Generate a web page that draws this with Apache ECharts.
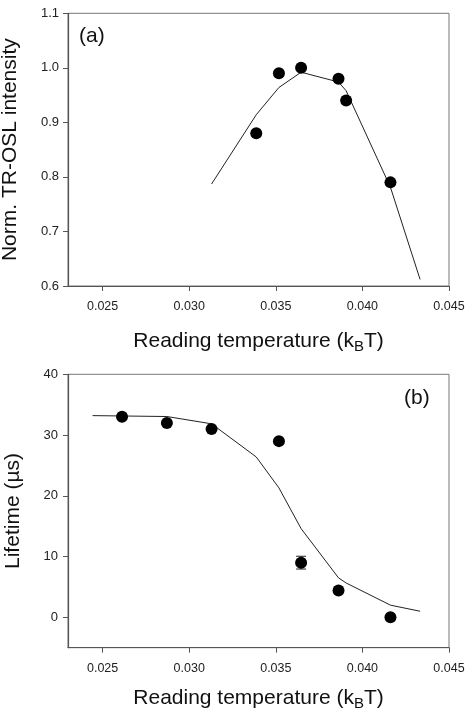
<!DOCTYPE html>
<html>
<head>
<meta charset="utf-8">
<script src="https://cdn.jsdelivr.net/npm/echarts@6/dist/echarts.min.js"></script>
<style>html,body{margin:0;padding:0;background:#fff}#c{width:466px;height:709px}</style>
</head>
<body>
<div id="c"></div>
<script>
// Panel (a): normalized TR-OSL intensity
var topX = [0.03387, 0.03518, 0.03646, 0.03862, 0.03906, 0.04162];
var topY = [0.88, 0.99, 1.00, 0.98, 0.94, 0.79];
var topFitX = [0.03129, 0.03387, 0.03518, 0.03646, 0.03862, 0.03906, 0.04162, 0.04333];
var topFitY = [0.787, 0.914, 0.964, 0.992, 0.974, 0.958, 0.781, 0.612];
// Panel (b): lifetime
var botX = [0.02612, 0.02871, 0.03129, 0.03518, 0.03646, 0.03862, 0.04162];
var botY = [33, 32, 31, 29, 9, 4.4, 0];
var botErr = [0, 0, 0, 0, 1.05, 0, 0];
var botFitX = [0.02442, 0.02871, 0.03129, 0.03387, 0.03518, 0.03646, 0.03862, 0.03906, 0.04162, 0.04333];
var botFitY = [33.2, 33.05, 31.85, 26.4, 21.3, 14.6, 6.5, 5.65, 2.0, 1.0];
// Tick labels
var xTicks = [0.025, 0.030, 0.035, 0.040, 0.045];
var topYTicks = [0.6, 0.7, 0.8, 0.9, 1.0, 1.1];
var botYTicks = [0, 10, 20, 30, 40];

function zip(a, b) { return a.map(function (v, i) { return [v, b[i]]; }); }

var FONT = '"Liberation Sans", Arial, sans-serif';
var axisCol = '#555';

function xAxis(grid, gap) {
  return {
    type: 'value', gridIndex: grid, min: 0.023, max: 0.045,
    name: 'Reading temperature (k{sub|B}T)', nameLocation: 'middle', nameGap: gap,
    nameTextStyle: {
      fontFamily: FONT, fontSize: 21, color: '#111', lineHeight: 26,
      rich: { sub: { fontFamily: FONT, fontSize: 15, color: '#111', verticalAlign: 'bottom', lineHeight: 15 } }
    },
    axisLine: { show: true, onZero: false, lineStyle: { color: axisCol, width: 1.2 } },
    axisTick: { show: true, inside: false, length: 5, customValues: xTicks, lineStyle: { color: axisCol } },
    axisLabel: { customValues: xTicks, margin: 14, fontFamily: FONT, fontSize: 12.5, color: '#222',
      formatter: function (v) { return v.toFixed(3); } },
    splitLine: { show: false }
  };
}

var option = {
  animation: false,
  backgroundColor: '#fff',
  grid: [
    { left: 68, right: 17, top: 13.3, height: 272.7, show: true, borderColor: '#777', borderWidth: 1,
      containLabel: false, outerBoundsMode: 'none' },
    { left: 68, right: 17, top: 374.3, height: 273.4, show: true, borderColor: '#777', borderWidth: 1,
      containLabel: false, outerBoundsMode: 'none' }
  ],
  xAxis: [xAxis(0, 42), xAxis(1, 38)],
  yAxis: [
    {
      type: 'value', gridIndex: 0, min: 0.6, max: 1.1,
      name: 'Norm. TR-OSL intensity', nameLocation: 'middle', nameGap: 47,
      nameTextStyle: { fontFamily: FONT, fontSize: 21, color: '#111' },
      axisLine: { show: true, onZero: false, lineStyle: { color: axisCol, width: 1.2 } },
      axisTick: { show: true, length: 5, customValues: topYTicks, lineStyle: { color: axisCol } },
      axisLabel: { customValues: topYTicks, margin: 9, fontFamily: FONT, fontSize: 13, color: '#222',
        formatter: function (v) { return v.toFixed(1); } },
      splitLine: { show: false }
    },
    {
      type: 'value', gridIndex: 1, min: -5, max: 40,
      name: 'Lifetime (\u00b5s)', nameLocation: 'middle', nameGap: 44,
      nameTextStyle: { fontFamily: FONT, fontSize: 21, color: '#111' },
      axisLine: { show: true, onZero: false, lineStyle: { color: axisCol, width: 1.2 } },
      axisTick: { show: true, length: 5, customValues: botYTicks, lineStyle: { color: axisCol } },
      axisLabel: { customValues: botYTicks, margin: 10, fontFamily: FONT, fontSize: 13, color: '#222' },
      splitLine: { show: false }
    }
  ],
  graphic: [
    { type: 'text', left: 79, top: 26, style: { text: '(a)', font: '21px ' + FONT, fill: '#111' } },
    { type: 'text', left: 404, top: 388, style: { text: '(b)', font: '21px ' + FONT, fill: '#111' } }
  ],
  series: [
    { type: 'line', xAxisIndex: 0, yAxisIndex: 0, data: zip(topFitX, topFitY), showSymbol: false,
      lineStyle: { color: '#222', width: 1 }, z: 2 },
    { type: 'scatter', xAxisIndex: 0, yAxisIndex: 0, data: zip(topX, topY), symbol: 'circle', symbolSize: 12,
      itemStyle: { color: '#000', opacity: 1 }, z: 3 },
    { type: 'line', xAxisIndex: 1, yAxisIndex: 1, data: zip(botFitX, botFitY), showSymbol: false,
      lineStyle: { color: '#222', width: 1 }, z: 2 },
    { type: 'custom', xAxisIndex: 1, yAxisIndex: 1, z: 2,
      data: botX.map(function (x, i) { return [x, botY[i] - botErr[i], botY[i] + botErr[i]]; }).filter(function (d, i) { return botErr[i] > 0; }),
      renderItem: function (params, api) {
        var lo = api.coord([api.value(0), api.value(1)]);
        var hi = api.coord([api.value(0), api.value(2)]);
        var w = 5;
        var st = { stroke: '#222', lineWidth: 1 };
        return { type: 'group', children: [
          { type: 'line', shape: { x1: lo[0], y1: lo[1], x2: hi[0], y2: hi[1] }, style: st },
          { type: 'line', shape: { x1: lo[0] - w, y1: lo[1], x2: lo[0] + w, y2: lo[1] }, style: st },
          { type: 'line', shape: { x1: hi[0] - w, y1: hi[1], x2: hi[0] + w, y2: hi[1] }, style: st }
        ] };
      }
    },
    { type: 'scatter', xAxisIndex: 1, yAxisIndex: 1, data: zip(botX, botY), symbol: 'circle', symbolSize: 12,
      itemStyle: { color: '#000', opacity: 1 }, z: 3 }
  ]
};
var chart = echarts.init(document.getElementById('c'), null, { renderer: 'canvas' });
chart.setOption(option);
</script>
</body>
</html>
